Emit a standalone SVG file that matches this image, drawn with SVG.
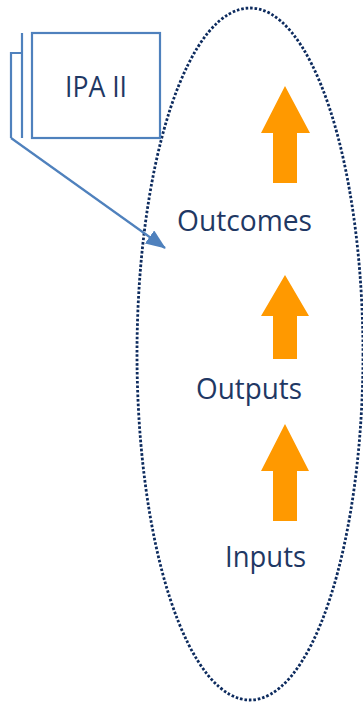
<svg xmlns="http://www.w3.org/2000/svg" width="363" height="702" viewBox="0 0 363 702">
  <style>
    .lbl { font-family: "Open Sans", "Noto Sans", "DejaVu Sans", sans-serif; fill: #1F3864; font-size: 29px; }
    .up { fill: #FF9900; }
    .blue { fill: none; stroke: #4F81BD; stroke-width: 2.2; }
  </style>
  <defs>
    <marker id="headL" viewBox="0 0 20 16" refX="19" refY="8" markerWidth="20" markerHeight="16" markerUnits="userSpaceOnUse" orient="auto">
      <path d="M0,0 L20,8 L0,16 z" fill="#4F81BD"/>
    </marker>
  </defs>

  <!-- dotted boundary -->
  <g id="boundary">
    <ellipse cx="250" cy="354" rx="113" ry="346" fill="none" stroke="#0D2B5E" stroke-width="2.8" stroke-dasharray="2.6 1.9"/>
  </g>

  <!-- IPA II stacked box -->
  <g id="ipa">
    <rect class="blue" x="32" y="33" width="128" height="105"/>
    <line class="blue" x1="22" y1="33" x2="22" y2="138"/>
    <polyline class="blue" points="22,53 11,53 11,138"/>
    <text class="lbl" x="65" y="97" textLength="62" lengthAdjust="spacingAndGlyphs">IPA II</text>
  </g>

  <g id="outcomes">
    <text class="lbl" x="177" y="231" textLength="135" lengthAdjust="spacingAndGlyphs">Outcomes</text>
  </g>
  <g id="outputs">
    <text class="lbl" x="196" y="399" textLength="106" lengthAdjust="spacingAndGlyphs">Outputs</text>
  </g>
  <g id="inputs">
    <text class="lbl" x="225" y="567" textLength="81" lengthAdjust="spacingAndGlyphs">Inputs</text>
  </g>

  <!-- connectors -->
  <g id="connectors">
    <line x1="11" y1="138" x2="165" y2="248" stroke="#4F81BD" stroke-width="2.2" marker-end="url(#headL)"/>
    <polygon class="up" points="285,86 310,133 297,133 297,183 273,183 273,133 261,133"/>
    <polygon class="up" points="285,275 309,316 297,316 297,359 273,359 273,316 261,316"/>
    <polygon class="up" points="285,424 309,471 297,471 297,521 273,521 273,471 261,471"/>
  </g>
</svg>
